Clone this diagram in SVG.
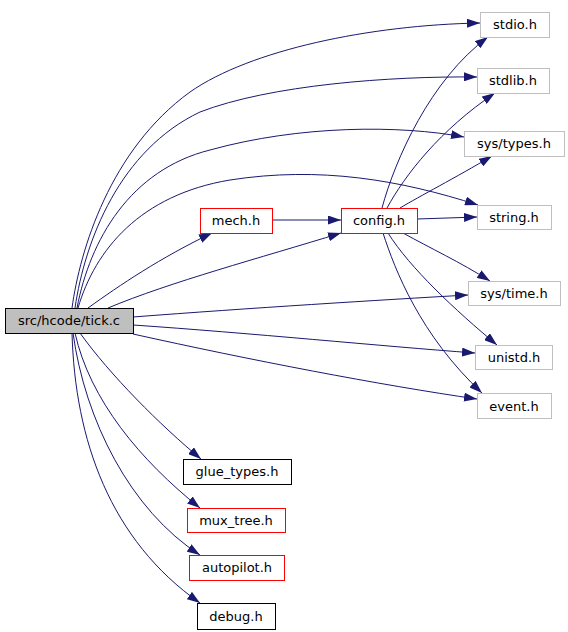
<svg xmlns="http://www.w3.org/2000/svg" width="568" height="632" viewBox="0 0 568 632">
<style>
.n rect{fill:#fff;stroke-width:1}
.b rect{stroke:#000}
.r rect{stroke:#ff0000}
.g rect{stroke:#bfbfbf}
.m rect{fill:#bfbfbf;stroke:#000}
text{font-family:"DejaVu Sans",sans-serif;font-size:13px;fill:#000;text-anchor:middle}
#edges path{fill:none;stroke:#191970;stroke-width:1;marker-end:url(#a)}
</style>
<defs>
<marker id="a" markerWidth="13" markerHeight="9" refX="13" refY="4.5" orient="auto" markerUnits="userSpaceOnUse">
<path d="M0,0 L13,4.5 L0,9 z" fill="#191970"/>
</marker>
</defs>
<rect width="568" height="632" fill="#fff"/>
<g id="edges">
<path d="M72,308 C80,250 110,150 190,92 C250,50 370,25 480,23"/>
<path d="M75,308 C85,240 120,150 200,112 C270,85 390,76 477,77"/>
<path d="M77,308 C90,240 130,170 210,150 C300,125 400,125 464,137"/>
<path d="M78,308 C95,250 140,195 230,180 C320,166 400,180 478,205"/>
<path d="M88,308 C120,285 160,258 212,233"/>
<path d="M108,308 C170,282 260,258 341,233"/>
<path d="M133,317 C250,308 380,300 468,295"/>
<path d="M133,325 C250,333 380,346 475,353"/>
<path d="M133,334 C250,360 380,385 477,399"/>
<path d="M80,333 C110,375 160,425 201,459"/>
<path d="M75,333 C90,400 140,460 200,508"/>
<path d="M73,333 C85,420 130,510 200,555"/>
<path d="M72,333 C75,440 110,540 200,603"/>
<path d="M272,220 L341,220"/>
<path d="M382,208 C395,160 430,80 488,37"/>
<path d="M387,208 C405,175 440,130 495,93"/>
<path d="M400,208 C420,196 455,178 492,156"/>
<path d="M417,219 L477,217"/>
<path d="M403,233 C430,248 460,262 490,281"/>
<path d="M388,233 C410,268 455,310 497,345"/>
<path d="M383,233 C395,270 420,335 482,393"/>
</g>
<g id="tick" class="n m"><rect x="5.5" y="308.5" width="128" height="25"/><text x="69" y="325">src/hcode/tick.c</text></g>
<g id="mech" class="n r"><rect x="200.5" y="208.5" width="72" height="25"/><text x="236" y="225">mech.h</text></g>
<g id="config" class="n r"><rect x="341.5" y="208.5" width="76" height="25"/><text x="379" y="225">config.h</text></g>
<g id="stdio" class="n g"><rect x="480.5" y="12.5" width="69" height="25"/><text x="515" y="29">stdio.h</text></g>
<g id="stdlib" class="n g"><rect x="477.5" y="68.5" width="72" height="25"/><text x="513" y="85">stdlib.h</text></g>
<g id="systypes" class="n g"><rect x="464.5" y="131.5" width="100" height="25"/><text x="514" y="148">sys/types.h</text></g>
<g id="string" class="n g"><rect x="477.5" y="205.5" width="74" height="24"/><text x="514" y="222">string.h</text></g>
<g id="systime" class="n g"><rect x="468.5" y="281.5" width="92" height="24"/><text x="514" y="298">sys/time.h</text></g>
<g id="unistd" class="n g"><rect x="475.5" y="345.5" width="77" height="24"/><text x="514" y="362">unistd.h</text></g>
<g id="event" class="n g"><rect x="477.5" y="393.5" width="74" height="25"/><text x="514" y="410.5">event.h</text></g>
<g id="glue_types" class="n b"><rect x="183.5" y="459.5" width="108" height="25"/><text x="237" y="476">glue_types.h</text></g>
<g id="mux_tree" class="n r"><rect x="187.5" y="508.5" width="98" height="24"/><text x="236" y="525">mux_tree.h</text></g>
<g id="autopilot" class="n r"><rect x="189.5" y="555.5" width="95" height="25"/><text x="237" y="572">autopilot.h</text></g>
<g id="debug" class="n b"><rect x="197.5" y="603.5" width="78" height="26"/><text x="236" y="621">debug.h</text></g>
</svg>
